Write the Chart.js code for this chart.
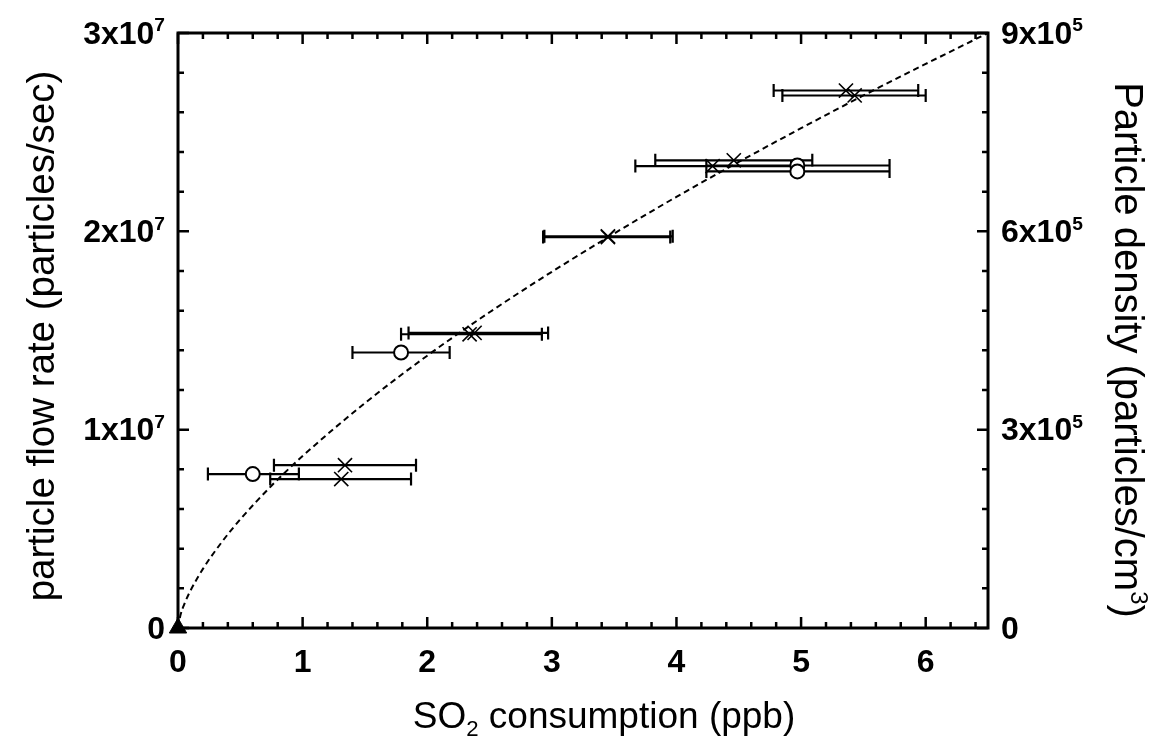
<!DOCTYPE html>
<html>
<head>
<meta charset="utf-8">
<script src="https://cdn.jsdelivr.net/npm/chart.js@4.4.1/dist/chart.umd.min.js"></script>
<style>
  body { margin: 0; background: #fff; }
  #wrap { width: 1159px; height: 751px; }
</style>
</head>
<body>
<div id="wrap"><canvas id="myChartSO2" width="1159" height="751"></canvas></div>
<script>
// Datos
var circleX = [0.60, 1.79, 4.97, 4.97];
var circleY = [7.76e6, 1.389e7, 2.332e7, 2.302e7];
var circleLow = [0.24, 1.40, 4.24, 4.24];
var circleHigh = [0.97, 2.18, 5.71, 5.71];

var crossX = [1.34, 1.31, 2.34, 2.38, 3.45, 3.45, 4.29, 4.46, 5.36, 5.43];
var crossY = [8.21e6, 7.51e6, 1.481e7, 1.488e7, 1.971e7, 1.975e7, 2.329e7, 2.358e7, 2.710e7, 2.685e7];
var crossLow = [0.77, 0.74, 1.79, 1.85, 2.93, 2.94, 3.67, 3.83, 4.78, 4.85];
var crossHigh = [1.91, 1.87, 2.92, 2.97, 3.95, 3.97, 4.92, 5.09, 5.94, 6.00];

var triangleX = [0];
var triangleY = [0];

// curva de ajuste (discontinua)
var curveX = [0, 0.02, 0.05, 0.1, 0.2, 0.35, 0.5, 0.75, 1, 1.5, 2, 2.5, 3, 3.5, 4, 4.5, 5, 5.5, 6, 6.5];
var curveY = [0, 6.5e5, 1.19e6, 1.88e6, 2.98e6, 4.32e6, 5.48e6, 7.17e6, 8.67e6, 1.134e7, 1.373e7, 1.592e7,
              1.796e7, 1.989e7, 2.174e7, 2.350e7, 2.520e7, 2.685e7, 2.844e7, 3.0e7];

// ejes
var xTicks = [0, 1, 2, 3, 4, 5, 6];
var xTickLabels = ['0', '1', '2', '3', '4', '5', '6'];
var yLeftTicks = [0, 1e7, 2e7, 3e7];
var yLeftTickLabels = ['0', '1x10^7', '2x10^7', '3x10^7'];
var yRightTicks = [0, 3e5, 6e5, 9e5];
var yRightTickLabels = ['0', '3x10^5', '6x10^5', '9x10^5'];

var FONT = '"Liberation Sans", Arial, sans-serif';

function pts(xs, ys) {
    return xs.map(function (x, i) { return { x: x, y: ys[i] }; });
}

// dibuja texto con superindice / subindice (partes)
function drawRich(ctx, parts, x, y, size, weight, align) {
    var w = 0;
    parts.forEach(function (p) {
        var s = (p.sup || p.sub) ? size * 0.6 : size;
        ctx.font = weight + ' ' + s + 'px ' + FONT;
        p.w = ctx.measureText(p.t).width;
        w += p.w;
    });
    var cx = x;
    if (align === 'center') cx = x - w / 2;
    if (align === 'right') cx = x - w;
    ctx.textAlign = 'left';
    ctx.textBaseline = 'middle';
    parts.forEach(function (p) {
        var s = (p.sup || p.sub) ? size * 0.6 : size;
        var dy = p.sup ? -size * 0.28 : (p.sub ? size * 0.32 : 0);
        ctx.font = weight + ' ' + s + 'px ' + FONT;
        ctx.fillText(p.t, cx, y + dy);
        cx += p.w;
    });
}

function labelParts(lbl) {
    var k = lbl.indexOf('^');
    if (k < 0) return [{ t: lbl }];
    return [{ t: lbl.slice(0, k) }, { t: lbl.slice(k + 1), sup: true }];
}

var framePlugin = {
    id: 'frame',
    beforeDatasetsDraw: function (chart) {
        var ctx = chart.ctx;
        var a = chart.chartArea;
        var xs = chart.scales.x, yl = chart.scales.y, yr = chart.scales.y2;
        ctx.save();
        ctx.strokeStyle = '#000';
        ctx.fillStyle = '#000';

        // marco
        ctx.lineWidth = 3;
        ctx.strokeRect(a.left, a.top, a.right - a.left, a.bottom - a.top);

        // marcas hacia dentro
        ctx.lineWidth = 2.5;
        ctx.beginPath();
        var k, v, p, len;
        for (k = 0; k <= 32; k++) {
            v = k * 0.2;
            p = xs.getPixelForValue(v);
            len = (k % 5 === 0) ? 11 : 6;
            ctx.moveTo(p, a.bottom); ctx.lineTo(p, a.bottom - len);
            ctx.moveTo(p, a.top); ctx.lineTo(p, a.top + len);
        }
        for (k = 0; k <= 15; k++) {
            p = yl.getPixelForValue(k * 2e6);
            len = (k % 5 === 0) ? 11 : 6;
            ctx.moveTo(a.left, p); ctx.lineTo(a.left + len, p);
            p = yr.getPixelForValue(k * 6e4);
            ctx.moveTo(a.right, p); ctx.lineTo(a.right - len, p);
        }
        ctx.stroke();

        // etiquetas de ticks
        xTicks.forEach(function (t, i) {
            drawRich(ctx, labelParts(xTickLabels[i]), xs.getPixelForValue(t), a.bottom + 35, 32, 'bold', 'center');
        });
        yLeftTicks.forEach(function (t, i) {
            drawRich(ctx, labelParts(yLeftTickLabels[i]), a.left - 13, yl.getPixelForValue(t) + 2, 32, 'bold', 'right');
        });
        yRightTicks.forEach(function (t, i) {
            drawRich(ctx, labelParts(yRightTickLabels[i]), a.right + 13, yr.getPixelForValue(t) + 2, 32, 'bold', 'left');
        });

        // titulos de ejes
        drawRich(ctx, [{ t: 'SO' }, { t: '2', sub: true }, { t: ' consumption (ppb)' }],
            604, 718, 37, 'normal', 'center');
        ctx.save();
        ctx.translate(43, 336);
        ctx.rotate(-Math.PI / 2);
        drawRich(ctx, [{ t: 'particle flow rate (particles/sec)' }], 0, 0, 38.5, 'normal', 'center');
        ctx.restore();
        ctx.save();
        ctx.translate(1126, 350);
        ctx.rotate(Math.PI / 2);
        drawRich(ctx, [{ t: 'Particle density (particles/cm' }, { t: '3', sup: true }, { t: ')' }],
            0, 0, 40, 'normal', 'center');
        ctx.restore();

        // barras de error horizontales
        ctx.lineWidth = 2.2;
        ctx.beginPath();
        function bars(xv, yv, lo, hi) {
            for (var i = 0; i < xv.length; i++) {
                var py = yl.getPixelForValue(yv[i]);
                var x1 = xs.getPixelForValue(lo[i]);
                var x2 = xs.getPixelForValue(hi[i]);
                ctx.moveTo(x1, py); ctx.lineTo(x2, py);
                ctx.moveTo(x1, py - 6.5); ctx.lineTo(x1, py + 6.5);
                ctx.moveTo(x2, py - 6.5); ctx.lineTo(x2, py + 6.5);
            }
        }
        bars(circleX, circleY, circleLow, circleHigh);
        bars(crossX, crossY, crossLow, crossHigh);
        ctx.stroke();
        ctx.restore();
    }
};

var ctx = document.getElementById('myChartSO2').getContext('2d');
var myChart = new Chart(ctx, {
    type: 'scatter',
    data: {
        datasets: [{
            type: 'line',
            label: 'fit',
            data: pts(curveX, curveY),
            borderColor: '#000',
            borderWidth: 2,
            borderDash: [6, 4],
            pointRadius: 0,
            fill: false,
            cubicInterpolationMode: 'monotone'
        },
        {
            label: 'circles',
            data: pts(circleX, circleY),
            pointStyle: 'circle',
            pointRadius: 7,
            pointBorderWidth: 2,
            borderColor: '#000',
            backgroundColor: '#fff'
        },
        {
            label: 'crosses',
            data: pts(crossX, crossY),
            pointStyle: 'crossRot',
            pointRadius: 10,
            pointBorderWidth: 1.6,
            borderColor: '#000',
            backgroundColor: '#000'
        },
        {
            label: 'origin',
            data: pts(triangleX, triangleY),
            pointStyle: 'triangle',
            pointRadius: 10,
            borderColor: '#000',
            backgroundColor: '#000',
            clip: false
        }]
    },
    options: {
        responsive: false,
        animation: false,
        layout: { padding: { left: 178, right: 171, top: 33, bottom: 123 } },
        plugins: { legend: { display: false }, tooltip: { enabled: false } },
        scales: {
            x: { type: 'linear', min: 0, max: 6.5, display: false },
            y: { type: 'linear', min: 0, max: 3e7, display: false },
            y2: { type: 'linear', min: 0, max: 9e5, display: false, position: 'right' }
        }
    },
    plugins: [framePlugin]
});
</script>
</body>
</html>
